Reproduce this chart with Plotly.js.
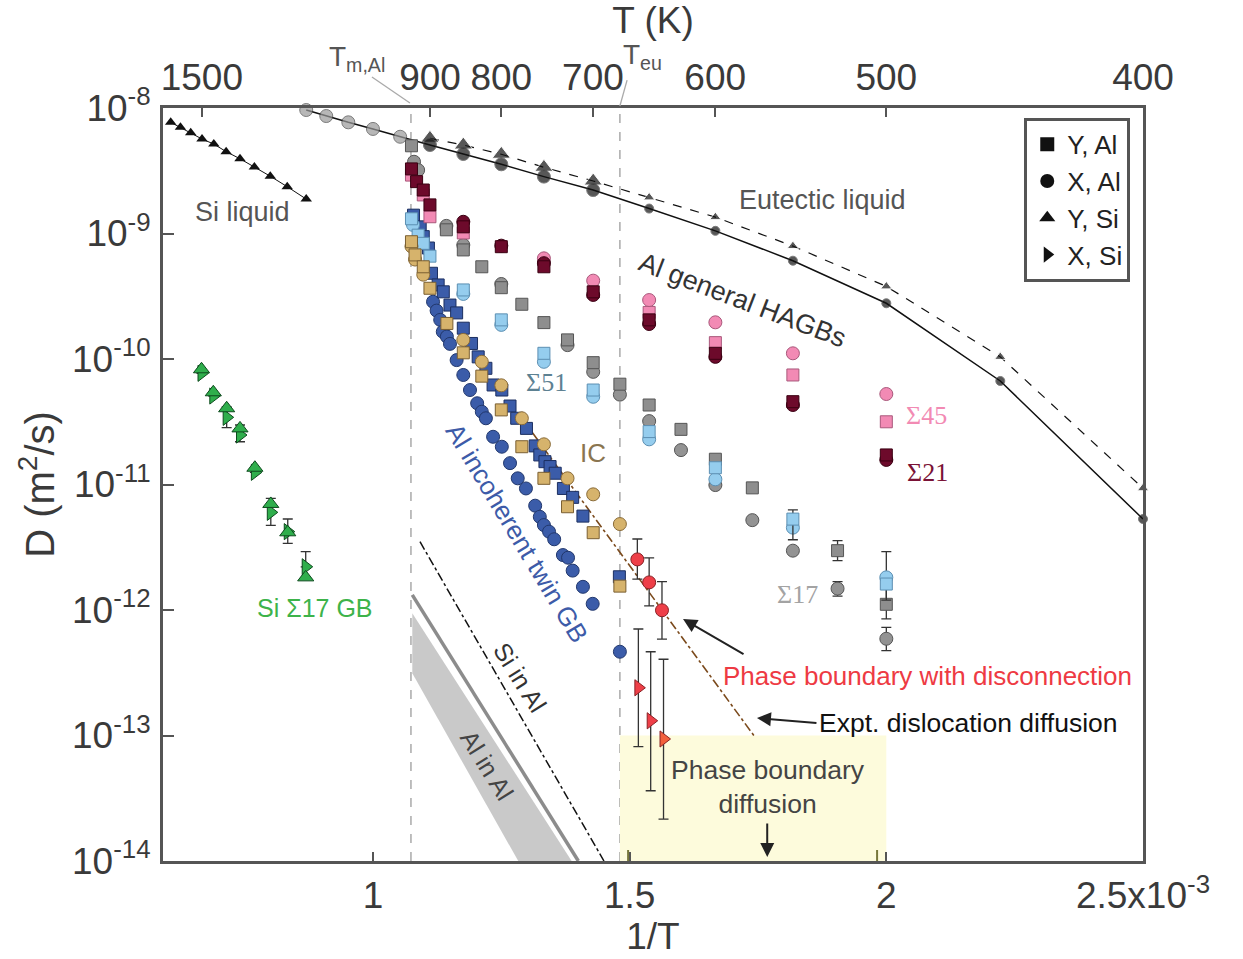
<!DOCTYPE html>
<html><head><meta charset="utf-8">
<script src="https://cdn.plot.ly/plotly-3.0.1.min.js"></script>
<style>html,body{margin:0;padding:0;background:#fff}</style>
</head><body><div id="chart" style="width:1243px;height:959px"></div>
<script>
// ---------- DATA (x = 1000/T in units of 1e-3 K^-1, y = D in m^2/s) ----------
const siLiqX = [0.606,0.625,0.645,0.667,0.690,0.714,0.741,0.769,0.800,0.833,0.870];
const siLiqD = [7.69e-9,7.02e-9,6.35e-9,5.66e-9,5.16e-9,4.49e-9,3.94e-9,3.39e-9,2.86e-9,2.36e-9,1.88e-9];

const eutAlX = [0.870,0.909,0.952,1.0,1.053,1.111,1.176,1.25,1.333,1.429,1.538,1.667,1.818,2.0,2.222,2.5];
const eutAlD = [9.64e-9,8.63e-9,7.69e-9,6.81e-9,5.90e-9,5.07e-9,4.30e-9,3.56e-9,2.84e-9,2.22e-9,1.58e-9,1.05e-9,6.07e-10,2.78e-10,6.68e-11,5.31e-12];
const eutSiX = [1.111,1.176,1.25,1.333,1.429,1.538,1.667,1.818,2.0,2.222,2.5];
const eutSiD = [5.74e-9,5.07e-9,4.28e-9,3.37e-9,2.62e-9,1.94e-9,1.35e-9,7.94e-10,3.79e-10,1.04e-10,9.33e-12];

// Sigma17 (gray)
const s17SqX = [1.075,1.143,1.176,1.212,1.25,1.290,1.333,1.379,1.429,1.481,1.538,1.600,1.667,1.739,1.905,2.0];
const s17SqD = [5.0e-9,1.07e-9,7.4e-10,5.43e-10,3.7e-10,2.73e-10,1.95e-10,1.42e-10,9.35e-11,6.3e-11,4.3e-11,2.75e-11,1.59e-11,9.4e-12,2.97e-12,1.11e-12];
const s17SqHi = [null,null,null,null,null,null,null,null,null,null,null,null,null,null,3.57e-12,1.6e-12];
const s17SqLo = [null,null,null,null,null,null,null,null,null,null,null,null,null,null,2.47e-12,8.5e-13];
const s17CiX = [1.080,1.088,1.143,1.176,1.25,1.379,1.429,1.481,1.538,1.600,1.667,1.739,1.818,1.905,2.0];
const s17CiD = [3.73e-9,3.2e-9,1.15e-9,8.1e-10,3.96e-10,1.29e-10,7.9e-11,5.2e-11,3.2e-11,1.88e-11,9.9e-12,5.2e-12,2.97e-12,1.48e-12,5.9e-13];
const s17CiHi = [null,null,null,null,null,null,null,null,null,null,null,null,null,1.68e-12,7.27e-13];
const s17CiLo = [null,null,null,null,null,null,null,null,null,null,null,null,null,1.29e-12,4.74e-13];

// Sigma51 (light blue)
const s51SqX = [1.075,1.088,1.098,1.111,1.176,1.25,1.333,1.429,1.538,1.667,1.818,2.0];
const s51SqD = [1.31e-9,9.7e-10,8.35e-10,6.6e-10,3.55e-10,2.05e-10,1.11e-10,5.66e-11,2.64e-11,1.36e-11,5.3e-12,1.61e-12];
const s51SqHi = [null,null,null,null,null,null,null,null,null,null,6.27e-12,null];
const s51SqLo = [null,null,null,null,null,null,null,null,null,null,3.63e-12,1.2e-12];
const s51CiX = [1.078,1.176,1.25,1.333,1.429,1.538,1.667,1.818,2.0];
const s51CiD = [1.17e-9,3.3e-10,1.87e-10,9.5e-11,5.0e-11,2.29e-11,1.1e-11,4.53e-12,1.82e-12];
const s51CiHi = [null,null,null,null,null,null,null,null,2.92e-12];
const s51CiLo = [null,null,null,null,null,null,null,null,null];

// Sigma21 (dark red)
const s21SqX = [1.075,1.085,1.098,1.111,1.176,1.25,1.333,1.429,1.538,1.667,1.818,2.0];
const s21SqD = [3.27e-9,2.59e-9,2.22e-9,1.69e-9,1.13e-9,7.85e-10,5.43e-10,3.43e-10,2.05e-10,1.11e-10,4.57e-11,1.72e-11];
const s21CiX = [1.176,1.25,1.333,1.429,1.538,1.667,1.818,2.0];
const s21CiD = [1.24e-9,8.0e-10,5.8e-10,3.24e-10,1.9e-10,1.04e-10,4.3e-11,1.57e-11];

// Sigma45 (pink)
const s45SqX = [1.075,1.098,1.111,1.176,1.538,1.667,1.818,2.0];
const s45SqD = [2.92e-9,2.03e-9,1.36e-9,1.01e-9,2.35e-10,1.35e-10,7.46e-11,3.16e-11];
const s45CiX = [1.333,1.429,1.538,1.667,1.818,2.0];
const s45CiD = [6.34e-10,4.21e-10,2.95e-10,1.96e-10,1.11e-10,5.26e-11];

// IC (tan)
const icSqX = [1.075,1.082,1.098,1.111,1.144,1.176,1.212,1.25,1.290,1.333,1.379,1.429,1.481];
const icSqD = [8.6e-10,6.75e-10,5.43e-10,3.66e-10,1.92e-10,1.12e-10,7.3e-11,3.93e-11,2.0e-11,1.12e-11,6.65e-12,4.13e-12,1.55e-12];
const icCiX = [1.075,1.082,1.098,1.176,1.212,1.25,1.290,1.333,1.379,1.429,1.481];
const icCiD = [7.9e-10,6.2e-10,4.7e-10,1.42e-10,9.5e-11,6.17e-11,3.37e-11,2.09e-11,1.12e-11,8.35e-12,4.84e-12];

// Al incoherent twin GB (blue)
const twSqX = [1.079,1.092,1.098,1.108,1.114,1.127,1.137,1.150,1.163,1.176,1.192,1.205,1.220,1.234,1.251,1.267,1.280,1.299,1.316,1.325,1.335,1.345,1.355,1.371,1.389,1.409,1.480];
const twSqD = [1.40e-9,1.13e-9,9.44e-10,7.66e-10,4.82e-10,3.89e-10,3.43e-10,2.69e-10,2.33e-10,1.76e-10,1.33e-10,1.04e-10,8.43e-11,6.21e-11,5.66e-11,4.22e-11,3.37e-11,2.8e-11,2.03e-11,1.72e-11,1.52e-11,1.39e-11,1.23e-11,9.3e-12,7.9e-12,5.6e-12,1.84e-12];
const twCiX = [1.117,1.124,1.131,1.136,1.144,1.150,1.163,1.176,1.189,1.203,1.212,1.220,1.234,1.251,1.267,1.282,1.298,1.316,1.325,1.333,1.343,1.353,1.370,1.380,1.389,1.409,1.428,1.481];
const twCiD = [2.86e-10,2.43e-10,2.05e-10,1.65e-10,1.51e-10,1.32e-10,9.8e-11,7.46e-11,5.66e-11,4.44e-11,3.8e-11,3.37e-11,2.4e-11,2.0e-11,1.48e-11,1.12e-11,9.3e-12,6.78e-12,5.53e-12,4.75e-12,4.21e-12,3.66e-12,2.74e-12,2.61e-12,2.06e-12,1.53e-12,1.12e-12,4.65e-13];

// Si Sigma17 GB (green)
const siGbX = [0.666,0.689,0.715,0.741,0.770,0.801,0.834,0.869];
const siGbYD = [8.28e-11,5.43e-11,4.05e-11,2.8e-11,1.36e-11,7.0e-12,4.16e-12,1.82e-12];
const siGbXD = [7.69e-11,5.07e-11,3.43e-11,2.48e-11,1.25e-11,6.0e-12,4.21e-12,2.21e-12];
const siGbXHi = [null,null,4.16e-11,2.98e-11,null,7.76e-12,5.31e-12,2.92e-12];
const siGbXLo = [null,null,2.84e-11,2.19e-11,null,4.73e-12,3.4e-12,null];

// Phase boundary with disconnection (red)
const pbX = [1.515,1.538,1.563];
const pbAlD = [2.53e-12,1.66e-12,9.95e-13];
const pbAlHi = [3.68e-12,2.6e-12,1.68e-12];
const pbAlLo = [1.76e-12,1.08e-12,5.87e-13];
const pbSiX = [1.517,1.541,1.566];
const pbSiD = [2.4e-13,1.31e-13,9.38e-14];
const pbSiHi = [7.06e-13,4.65e-13,4.05e-13];
const pbSiLo = [8.15e-14,3.63e-14,2.16e-14];

// Lattice / dislocation lines
const alInAlTopX = [1.0766,1.387];  const alInAlTopD = [9.42e-13,1.0e-14];
const alInAlBotX = [1.283,1.0766];  const alInAlBotD = [1.0e-14,3.13e-13];
const alInAlLineX = [1.0766,1.400]; const alInAlLineD = [1.32e-12,1.0e-14];
const siInAlX = [1.0916,1.450];     const siInAlD = [3.5e-12,1.0e-14];
const dislX = [1.290,1.744];        const dislD = [3.37e-11,9.73e-14];
const pbBoxX = [1.481,2.0,2.0,1.481]; const pbBoxD = [1e-14,1e-14,1e-13,1e-13];

const TmAl = 1.074, Teu = 1.481;
const topT = [1500,900,800,700,600,500,400];
const botTicks = [1,1.5,2,2.5];
const botTickText = ['1','1.5','2','2.5x10<sup>-3</sup>'];
const yTicks = [1e-14,1e-13,1e-12,1e-11,1e-10,1e-9,1e-8];
const yTickText = ['10<sup>-14</sup>','10<sup>-13</sup>','10<sup>-12</sup>','10<sup>-11</sup>','10<sup>-10</sup>','10<sup>-9</sup>','10<sup>-8</sup>'];

// ---------- BUILD ----------
const SANS = 'Liberation Sans, Arial, sans-serif';
const SERIF = 'Liberation Serif, Times New Roman, serif';
const traces = [];

function errs(y, hi, lo){
  if(!hi && !lo) return undefined;
  const a = y.map((v,i)=> (hi && hi[i]!=null) ? hi[i]-v : 0);
  const b = y.map((v,i)=> (lo && lo[i]!=null) ? v-lo[i] : 0);
  return {type:'data', symmetric:false, array:a, arrayminus:b, color:'#333', thickness:1.3, width:5};
}
function pts(x, y, symbol, fill, edge, size, hi, lo){
  const t = {x:x, y:y, mode:'markers', type:'scatter', showlegend:false, cliponaxis:false,
    marker:{symbol:symbol, size:size, color:fill, line:{color:edge, width:1}}, hoverinfo:'x+y'};
  const e = errs(y, hi, lo);
  if(e) t.error_y = e;
  traces.push(t);
}
function line(x, y, color, width, dash){
  traces.push({x:x, y:y, mode:'lines', type:'scatter', showlegend:false,
    line:{color:color, width:width, dash:dash||'solid'}, hoverinfo:'skip'});
}

// phase boundary diffusion box
traces.push({x:pbBoxX, y:pbBoxD, mode:'none', fill:'toself', fillcolor:'#fdfbdc', type:'scatter', showlegend:false, hoverinfo:'skip'});
// Al in Al band
traces.push({x:alInAlTopX.concat(alInAlBotX), y:alInAlTopD.concat(alInAlBotD), mode:'none', fill:'toself',
  fillcolor:'#c9c9c9', type:'scatter', showlegend:false, hoverinfo:'skip'});
line(alInAlLineX, alInAlLineD, '#8c8c8c', 3.5);
line(siInAlX, siInAlD, '#111', 1.5, 'dashdot');
line(dislX, dislD, '#7b4a1c', 1.6, 'dashdot');

// liquids
traces.push({x:siLiqX, y:siLiqD, mode:'lines+markers', type:'scatter', showlegend:false,
  line:{color:'#111', width:1}, marker:{symbol:'triangle-up', size:10, color:'#111'}});
traces.push({x:eutSiX, y:eutSiD, mode:'lines+markers', type:'scatter', showlegend:false, cliponaxis:false,
  line:{color:'#111', width:1.2, dash:'dash'},
  marker:{symbol:'triangle-up', size:eutSiX.map(v=>v<1.45?16:10), color:'#111'}});
traces.push({x:eutAlX, y:eutAlD, mode:'lines+markers', type:'scatter', showlegend:false, cliponaxis:false,
  line:{color:'#111', width:1.5},
  marker:{symbol:'circle', size:eutAlX.map(v=>v<1.45?13:9),
    color:eutAlX.map(v=>v<1.08?'#9a9a9a':'#111'), line:{color:'#444', width:1}}});

// GB data
pts(s17CiX, s17CiD, 'circle', '#939393', '#555', 13, s17CiHi, s17CiLo);
pts(s17SqX, s17SqD, 'square', '#8e8e8e', '#555', 12, s17SqHi, s17SqLo);
pts(twCiX, twCiD, 'circle', '#3b5ca9', '#22386d', 13);
pts(twSqX, twSqD, 'square', '#3b5ca9', '#1c2f60', 12);
pts(s51CiX, s51CiD, 'circle', '#95cdee', '#5c8fb2', 13, s51CiHi, s51CiLo);
pts(s51SqX, s51SqD, 'square', '#95cdee', '#5c8fb2', 12, s51SqHi, s51SqLo);
pts(s45SqX, s45SqD, 'square', '#f28ab4', '#a9587b', 12);
pts(s45CiX, s45CiD, 'circle', '#f28ab4', '#a9587b', 13);
pts(s21CiX, s21CiD, 'circle', '#6d0a2b', '#3a0012', 13);
pts(s21SqX, s21SqD, 'square', '#6d0a2b', '#3a0012', 12);
pts(icCiX, icCiD, 'circle', '#d6b36c', '#8a6c3a', 13);
pts(icSqX, icSqD, 'square', '#d6b36c', '#7a5f32', 12);
pts(siGbX, siGbXD, 'triangle-right', '#2fae4c', '#0d4a1d', 14, siGbXHi, siGbXLo);
pts(siGbX, siGbYD, 'triangle-up', '#2fae4c', '#0d4a1d', 14);
pts(pbX, pbAlD, 'circle', '#ee3f48', '#8a2024', 13, pbAlHi, pbAlLo);
pts(pbSiX, pbSiD, 'triangle-right', ['#ee3f48','#ee3f48','#f2603c'], '#8a2024', 14, pbSiHi, pbSiLo);

// legend entries
[['Y, Al','square'],['X, Al','circle'],['Y, Si','triangle-up'],['X, Si','triangle-right']].forEach(([n,s])=>{
  traces.push({x:[null], y:[null], name:n, mode:'markers', type:'scatter', showlegend:true,
    marker:{symbol:s, size:14, color:'#111'}});
});
// top axis anchor trace
traces.push({x:[null], y:[null], xaxis:'x2', mode:'markers', showlegend:false});

const X_RANGE = [0.591, 2.5];
const axisLine = '#555';
const tickFont = {family:SANS, size:37, color:'#3a3a3a'};
const titleFont = {family:SANS, size:37, color:'#3a3a3a'};

const ann = (x,y,text,opt)=>Object.assign({x:x, y:y, text:text, showarrow:false, xref:'x', yref:'y',
  font:{family:SANS, size:26, color:'#444'}}, opt||{});

const annotations = [
  ann(0.745,-8.829,'Si liquid',{font:{family:SANS,size:27,color:'#555'}}),
  ann(1.875,-8.733,'Eutectic liquid',{font:{family:SANS,size:27,color:'#555'}}),
  ann(1.719,-9.53,'Al general HAGBs',{textangle:21,font:{family:SANS,size:27,color:'#333'}}),
  ann(1.339,-10.191,'\u03A351',{font:{family:SERIF,size:26,color:'#5d8192'}}),
  ann(1.4286,-10.749,'IC',{font:{family:SANS,size:26,color:'#8a7550'}}),
  ann(1.2805,-11.386,'Al incoherent twin GB',{textangle:59,font:{family:SANS,size:26,color:'#3d5ba8'}}),
  ann(2.079,-10.454,'\u03A345',{font:{family:SERIF,size:26,color:'#f28ab3'}}),
  ann(2.081,-10.908,'\u03A321',{font:{family:SERIF,size:26,color:'#7a1236'}}),
  ann(1.826,-11.873,'\u03A317',{font:{family:SERIF,size:26,color:'#a3a3a3'}}),
  ann(0.887,-11.984,'Si \u03A317 GB',{font:{family:SANS,size:25,color:'#3db34a'}}),
  ann(2.081,-12.526,'Phase boundary with disconnection',{font:{family:SANS,size:26,color:'#ee3a43'}}),
  ann(2.161,-12.900,'Expt. dislocation diffusion',{font:{family:SANS,size:26.5,color:'#111'}}),
  ann(1.7695,-13.41,'Phase boundary<br>diffusion',{font:{family:SANS,size:26.5,color:'#444'}}),
  ann(1.286,-12.534,'Si in Al',{textangle:58,font:{family:SANS,size:25,color:'#333'}}),
  ann(1.222,-13.235,'Al in Al',{textangle:58,font:{family:SANS,size:25,color:'#444'}}),
  {x:0.969, y:1.092, xref:'x', yref:'paper', text:'T<sub>m,Al</sub>', showarrow:false, font:{family:SANS,size:28,color:'#555'}},
  {x:1.526, y:1.094, xref:'x', yref:'paper', text:'T<sub>eu</sub>', showarrow:false, font:{family:SANS,size:28,color:'#555'}},
  {x:1.604, y:-12.072, xref:'x', yref:'y', text:'', showarrow:true, ax:62, ay:36, arrowhead:2, arrowsize:1.4, arrowwidth:2, arrowcolor:'#222'},
  {x:1.748, y:-12.861, xref:'x', yref:'y', text:'', showarrow:true, ax:61, ay:5, arrowhead:2, arrowsize:1.4, arrowwidth:2, arrowcolor:'#222'},
  {x:1.768, y:-13.968, xref:'x', yref:'y', text:'', showarrow:true, ax:0, ay:-35, arrowhead:2, arrowsize:1.4, arrowwidth:2, arrowcolor:'#222'}
];

const shapes = [
  {type:'line', xref:'x', yref:'paper', x0:TmAl, x1:TmAl, y0:0, y1:1, line:{color:'#aaa', width:1.5, dash:'dash'}, layer:'below'},
  {type:'line', xref:'x', yref:'paper', x0:Teu, x1:Teu, y0:0, y1:1, line:{color:'#aaa', width:1.5, dash:'dash'}, layer:'below'},
  {type:'line', xref:'x', yref:'paper', x0:0.998, x1:1.072, y0:1.0412, y1:1.0066, line:{color:'#aaa', width:1.3}},
  {type:'line', xref:'x', yref:'paper', x0:1.495, x1:1.481, y0:1.037, y1:1.0027, line:{color:'#aaa', width:1.3}},
  {type:'line', xref:'x', yref:'paper', x0:1.497, x1:1.497, y0:0, y1:0.0146, line:{color:'#77773a', width:2}},
  {type:'line', xref:'x', yref:'paper', x0:1.982, x1:1.982, y0:0, y1:0.0146, line:{color:'#77773a', width:2}}
];

const layout = {
  width:1243, height:959, autosize:false,
  margin:{l:163, r:100, t:108, b:98},
  paper_bgcolor:'#fff', plot_bgcolor:'#fff',
  font:{family:SANS, color:'#3a3a3a'},
  xaxis:{range:X_RANGE, tickmode:'array', tickvals:botTicks, ticktext:botTickText,
    ticks:'inside', ticklen:9, tickwidth:2, tickcolor:axisLine, showline:true, linecolor:axisLine, linewidth:3,
    mirror:true, showgrid:false, zeroline:false, tickfont:tickFont, ticklabelstandoff:0,
    title:{text:'1/T', font:titleFont, standoff:6}},
  xaxis2:{range:X_RANGE, overlaying:'x', side:'top', tickmode:'array',
    tickvals:topT.map(t=>1000/t), ticktext:topT.map(String),
    ticks:'inside', ticklen:9, tickwidth:2, tickcolor:axisLine, showline:false, showgrid:false, zeroline:false,
    tickfont:tickFont, ticklabelstandoff:10, title:{text:'T (K)', font:titleFont, standoff:16}},
  yaxis:{type:'log', range:[-14,-8], tickmode:'array', tickvals:yTicks, ticktext:yTickText,
    ticks:'inside', ticklen:11, tickwidth:2, tickcolor:axisLine, showline:true, linecolor:axisLine, linewidth:3,
    mirror:true, showgrid:false, zeroline:false, tickfont:tickFont, ticklabelstandoff:2,
    title:{text:'D (m<sup>2</sup>/s)', font:{family:SANS, size:40, color:'#3a3a3a'}, standoff:6}},
  legend:{x:0.987, xanchor:'right', y:0.987, yanchor:'top', bgcolor:'#fff', bordercolor:'#555', borderwidth:3,
    font:{family:SANS, size:26, color:'#222'}, itemwidth:30, tracegroupgap:0,
    entrywidth:88, entrywidthmode:'pixels'},
  showlegend:true,
  annotations:annotations,
  shapes:shapes
};

Plotly.newPlot('chart', traces, layout, {displayModeBar:false, staticPlot:true});
</script>
</body></html>
